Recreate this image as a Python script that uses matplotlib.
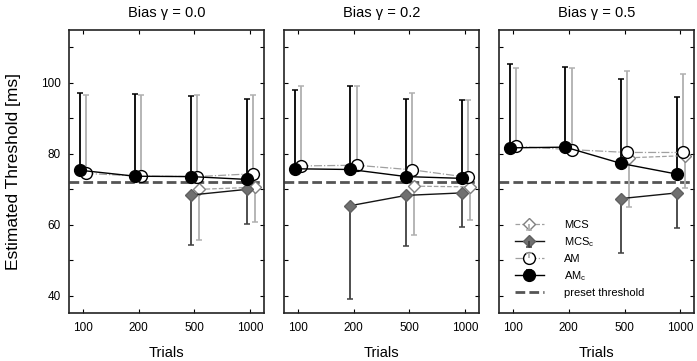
import numpy as np
import matplotlib.pyplot as plt
from matplotlib.ticker import FixedLocator
from matplotlib.legend_handler import HandlerTuple, HandlerErrorbar
from matplotlib.collections import LineCollection
from matplotlib.lines import Line2D

plt.rcParams['font.family'] = ['Liberation Sans', 'DejaVu Sans']

### data (NaN = no point)
trials = ['100', '200', '500', '1000']
biases = ['0.0', '0.2', '0.5']
preset_threshold = 72.0

# AM_c : mean and upper error bar end
amc_mean = [[75.4, 73.7, 73.6, 72.8],
            [75.8, 75.6, 73.6, 73.1],
            [81.7, 81.9, 77.3, 74.3]]
amc_top = [[97.2, 97.0, 96.2, 95.5],
           [97.9, 99.0, 95.5, 95.2],
           [105.4, 104.6, 101.0, 96.0]]
# AM : mean and upper error bar end
am_mean = [[74.5, 73.7, 73.6, 74.4],
           [76.6, 76.8, 75.5, 73.4],
           [82.1, 81.2, 80.4, 80.4]]
am_top = [[96.7, 96.6, 96.5, 96.5],
          [99.2, 99.1, 97.3, 95.1],
          [104.2, 104.2, 103.3, 102.6]]
# MCS_c : mean and lower error bar end
mcsc_mean = [[np.nan, np.nan, 68.4, 70.0],
             [np.nan, 65.4, 68.3, 69.0],
             [np.nan, np.nan, 67.4, 69.0]]
mcsc_bot = [[np.nan, np.nan, 54.3, 60.2],
            [np.nan, 39.0, 53.9, 59.4],
            [np.nan, np.nan, 52.1, 59.1]]
# MCS : mean and lower error bar end
mcs_mean = [[np.nan, np.nan, 70.0, 70.6],
            [np.nan, np.nan, 70.9, 70.7],
            [np.nan, np.nan, 78.9, 79.5]]
mcs_bot = [[np.nan, np.nan, 55.6, 60.9],
           [np.nan, np.nan, 57.0, 61.5],
           [np.nan, np.nan, 65.0, 70.3]]


class OneSidedErrorbar(HandlerErrorbar):
    '''legend entry with the error bar only above (up=True) or below the marker'''

    def __init__(self, up, **kw):
        super().__init__(**kw)
        self.up = up

    def create_artists(self, legend, orig_handle, xdescent, ydescent, width,
                       height, fontsize, trans):
        arts = super().create_artists(legend, orig_handle, xdescent, ydescent,
                                      width, height, fontsize, trans)
        caps = []
        for a in arts:
            if isinstance(a, LineCollection):
                new = []
                for (x0, y0), (x1, y1) in a.get_segments():
                    ym = (y0 + y1) / 2
                    new.append([(x0, ym), (x1, y1)] if self.up else [(x0, y0), (x1, ym)])
                a.set_segments(new)
            elif isinstance(a, Line2D) and a.get_marker() == '_':
                caps.append(a)
        if len(caps) == 2:
            caps.sort(key=lambda c: np.mean(c.get_ydata()))
            (caps[0] if self.up else caps[1]).set_visible(False)
        return arts


def draw_series(ax, x, mean, end, upward, line_kw, bar_color):
    mean = np.array(mean)
    end = np.array(end)
    ok = ~np.isnan(mean)
    if upward:
        yerr = [np.zeros(ok.sum()), end[ok] - mean[ok]]
    else:
        yerr = [mean[ok] - end[ok], np.zeros(ok.sum())]
    eb = ax.errorbar(x[ok], mean[ok], yerr=yerr, fmt='none', ecolor=bar_color,
                     elinewidth=1.3, capsize=2.5, capthick=1.1, zorder=2)
    ln, = ax.plot(x[ok], mean[ok], zorder=3, **line_kw)
    return eb, ln


fig = plt.figure(figsize=(6.97, 3.61), dpi=100)
lefts = [0.099, 0.4075, 0.716]
x = np.arange(1, 5, dtype=float)

for i, b in enumerate(biases):
    ax = fig.add_axes([lefts[i], 0.1316, 0.28, 0.786])

    ax.axhline(preset_threshold, color='#555555', lw=2, ls=(0, (3.5, 1.5)), zorder=1)

    h_mcs = draw_series(ax, x + 0.08, mcs_mean[i], mcs_bot[i], False,
                        dict(color='#a0a0a0', lw=0.9, ls='--', marker='D', ms=6,
                             mfc='white', mec='#808080', mew=1.0), '#b0b0b0')
    h_mcsc = draw_series(ax, x - 0.06, mcsc_mean[i], mcsc_bot[i], False,
                         dict(color='#151515', lw=1.0, ls='-', marker='D', ms=6.5,
                              mfc='#707070', mec='#606060', mew=1.0), '#404040')
    h_am = draw_series(ax, x + 0.05, am_mean[i], am_top[i], True,
                       dict(color='#a0a0a0', lw=0.9, ls='-.', marker='o', ms=8.5,
                            mfc='white', mec='black', mew=1.0), '#b0b0b0')
    h_amc = draw_series(ax, x - 0.06, amc_mean[i], amc_top[i], True,
                        dict(color='black', lw=1.0, ls='-', marker='o', ms=8.5,
                             mfc='black', mec='black'), 'black')

    ax.set_xlim(0.75, 4.25)
    ax.set_ylim(35, 115)
    ax.set_xticks(x)
    ax.set_xticklabels(trials)
    ax.set_yticks([40, 60, 80, 100])
    ax.yaxis.set_minor_locator(FixedLocator([50, 70, 90, 110]))
    ax.tick_params(which='both', direction='in', top=True, right=True,
                   length=3, width=0.8, labelsize=8.5, pad=6)
    if i > 0:
        ax.set_yticklabels([])
    else:
        ax.set_ylabel('Estimated Threshold [ms]', fontsize=12.5, labelpad=14)
    for s in ax.spines.values():
        s.set_linewidth(1.2)
        s.set_color('#222222')
    ax.set_xlabel('Trials', fontsize=10.5, labelpad=9)
    ax.set_title('Bias \u03b3 = ' + b, fontsize=10.5, pad=9)

    if i == 2:
        preset = Line2D([], [], color='#555555', lw=2, ls=(0, (3.5, 1.5)))
        hmap = {tuple: HandlerTuple(ndivide=1),
                h_mcs[0]: OneSidedErrorbar(False), h_mcsc[0]: OneSidedErrorbar(False),
                h_am[0]: OneSidedErrorbar(True), h_amc[0]: OneSidedErrorbar(True)}
        ax.legend([h_mcs[::-1], h_mcsc[::-1], h_am[::-1], h_amc[::-1], preset],
                  ['MCS', r'MCS$_\mathregular{c}$', 'AM', r'AM$_\mathregular{c}$',
                   'preset threshold'],
                  handler_map=hmap,
                  loc='lower left', bbox_to_anchor=(0.03, 0.02), frameon=False,
                  fontsize=8, handlelength=2.6, handletextpad=1.8,
                  labelspacing=0.45)

fig.savefig('out.png', dpi=100)
